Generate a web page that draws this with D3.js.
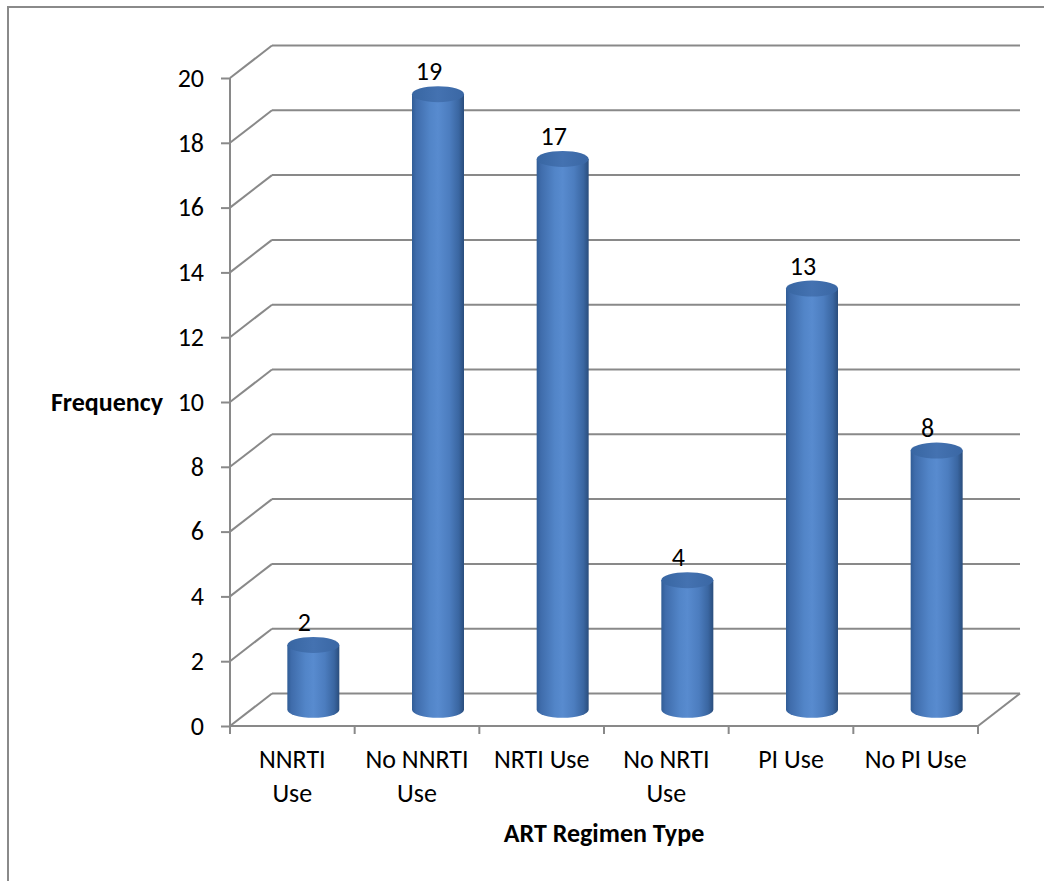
<!DOCTYPE html>
<html>
<head>
<meta charset="utf-8">
<script src="https://cdn.jsdelivr.net/npm/d3@7"></script>
<style>
  html, body { margin: 0; padding: 0; background: #fff; }
  svg { display: block; }
  text { font-family: Carlito, Calibri, Lato, "Open Sans", sans-serif; fill: #000; }
</style>
</head>
<body>
<svg id="chart" width="1044" height="881"></svg>
<script>
// ART regimen frequency data
const categories = ["NNRTI Use", "No NNRTI Use", "NRTI Use", "No NRTI Use", "PI Use", "No PI Use"];
const categoryLines = [["NNRTI", "Use"], ["No NNRTI", "Use"], ["NRTI Use"], ["No NRTI", "Use"], ["PI Use"], ["No PI Use"]];
const frequencies = [2, 19, 17, 4, 13, 8];
const yTicks = [0, 2, 4, 6, 8, 10, 12, 14, 16, 18, 20];

(function () {
  const svg = d3.select("#chart");

  // Plot geometry (front plane) and 3D depth offset
  const plotLeft = 230, plotRight = 978, plotBottom = 726, plotTop = 78;
  const depthX = 42, depthY = -32.5;
  const gridColor = "#898989";
  const fontFamily = "Carlito, Calibri, Lato, 'Open Sans', sans-serif";
  const fontSize = 26;

  const x = d3.scaleBand().domain(categories).range([plotLeft, plotRight]);
  const y = d3.scaleLinear().domain([0, 20]).range([plotBottom, plotTop]);

  // Outer chart frame
  svg.append("rect")
    .attr("x", 8).attr("y", 7).attr("width", 1100).attr("height", 1000)
    .attr("fill", "none").attr("stroke", "#8a8a8a").attr("stroke-width", 2);

  // Gradients for the cylinders
  const defs = svg.append("defs");
  const body = defs.append("linearGradient").attr("id", "cylBody")
    .attr("x1", "0%").attr("x2", "100%").attr("y1", "0%").attr("y2", "0%");
  [["0%", "#315d96"], ["8%", "#3f6cab"], ["35%", "#5285c8"], ["50%", "#588bcf"],
   ["72%", "#4c7dbf"], ["90%", "#3a66a1"], ["100%", "#2a4d7c"]]
    .forEach(([o, c]) => body.append("stop").attr("offset", o).attr("stop-color", c));
  const cap = defs.append("linearGradient").attr("id", "cylTop")
    .attr("x1", "0%").attr("x2", "100%").attr("y1", "0%").attr("y2", "0%");
  [["0%", "#3866a2"], ["50%", "#4472b1"], ["100%", "#3a67a4"]]
    .forEach(([o, c]) => cap.append("stop").attr("offset", o).attr("stop-color", c));

  // Back wall gridlines and side-wall diagonals
  const grid = svg.append("g").attr("stroke", gridColor).attr("stroke-width", 2).attr("fill", "none");
  yTicks.forEach(t => {
    const yf = y(t);
    grid.append("line")
      .attr("x1", plotLeft + depthX).attr("x2", plotRight + depthX)
      .attr("y1", yf + depthY).attr("y2", yf + depthY);
    grid.append("line")
      .attr("x1", plotLeft).attr("x2", plotLeft + depthX)
      .attr("y1", yf).attr("y2", yf + depthY);
  });
  // Floor front edge and right edge
  grid.append("line").attr("x1", plotLeft).attr("x2", plotRight).attr("y1", y(0)).attr("y2", y(0));
  grid.append("line").attr("x1", plotRight).attr("x2", plotRight + depthX)
    .attr("y1", y(0)).attr("y2", y(0) + depthY);
  // Vertical value axis
  grid.append("line").attr("x1", plotLeft).attr("x2", plotLeft).attr("y1", y(20)).attr("y2", y(0));

  // Value axis ticks and labels
  const yAxis = svg.append("g")
    .attr("transform", `translate(${plotLeft},0)`)
    .call(d3.axisLeft(y).tickValues(yTicks).tickSize(9).tickPadding(17).tickFormat(d3.format("d")));
  yAxis.select(".domain").remove();
  yAxis.selectAll(".tick line").attr("stroke", gridColor).attr("stroke-width", 2);
  yAxis.selectAll(".tick text").attr("font-size", fontSize).attr("fill", "#000")
    .style("font-family", fontFamily);

  // Category axis ticks at band boundaries
  const bounds = categories.map(c => x(c)).concat([plotRight]);
  svg.append("g").selectAll("line").data(bounds).join("line")
    .attr("x1", d => d).attr("x2", d => d)
    .attr("y1", y(0)).attr("y2", y(0) + 8)
    .attr("stroke", gridColor).attr("stroke-width", 2);

  // Category labels
  const catG = svg.append("g").attr("font-size", fontSize).attr("text-anchor", "middle");
  categories.forEach((c, i) => {
    const cx = x(c) + x.bandwidth() / 2;
    const t = catG.append("text").attr("x", cx).attr("y", 768);
    categoryLines[i].forEach((line, j) => {
      t.append("tspan").attr("x", cx).attr("dy", j === 0 ? 0 : 34).text(line);
    });
  });

  // Cylinders, placed at mid depth
  const rx = 26, ry = 8;
  const midX = depthX / 2, midY = depthY / 2;
  const bars = svg.append("g");
  const labels = svg.append("g").attr("font-size", fontSize).attr("text-anchor", "middle");
  categories.forEach((c, i) => {
    const v = frequencies[i];
    const cx = x(c) + x.bandwidth() / 2 + midX;
    const yBase = y(0) + midY;
    const yTop = y(v) + midY;
    const g = bars.append("g");
    g.append("path")
      .attr("d", `M${cx - rx},${yTop} L${cx - rx},${yBase} A${rx},${ry} 0 0 0 ${cx + rx},${yBase} L${cx + rx},${yTop} Z`)
      .attr("fill", "url(#cylBody)");
    g.append("ellipse")
      .attr("cx", cx).attr("cy", yTop).attr("rx", rx).attr("ry", ry)
      .attr("fill", "url(#cylTop)");
    labels.append("text")
      .attr("x", cx - 9).attr("y", yTop - 14)
      .text(v);
  });

  // Axis titles
  svg.append("text").attr("x", 163).attr("y", 411)
    .attr("text-anchor", "end").attr("font-size", fontSize).attr("font-weight", "bold")
    .text("Frequency");
  svg.append("text").attr("x", 604).attr("y", 842)
    .attr("text-anchor", "middle").attr("font-size", fontSize).attr("font-weight", "bold")
    .text("ART Regimen Type");
})();
</script>
</body>
</html>
